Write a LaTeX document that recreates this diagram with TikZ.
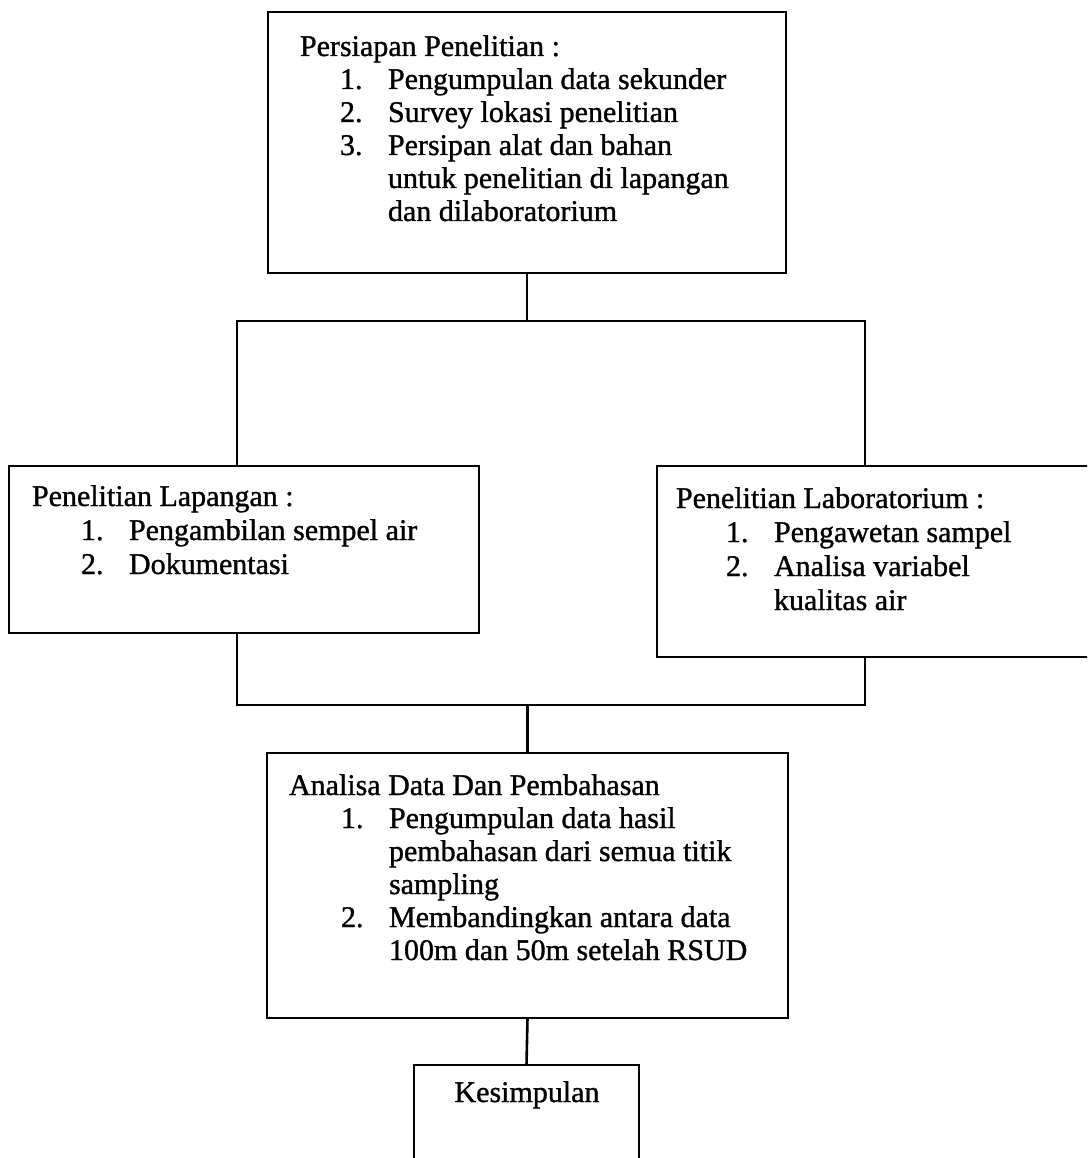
\documentclass[tikz,border=0pt]{standalone}
\usepackage{fontspec}
\setmainfont{Liberation Serif}[FakeBold=1.1]
\begin{document}
\begin{tikzpicture}[x=1pt,y=-1pt,
  box/.style={draw, line width=2.6pt, inner sep=0pt, outer sep=0pt, anchor=north west},
  txt/.style={anchor=base west, inner sep=0pt, outer sep=0pt, font=\fontsize{30}{33}\selectfont},
  ln/.style={line width=2.6pt}]
\useasboundingbox (0,0) rectangle (1087,1158);
\clip (0,0) rectangle (1087,1158);
\newcommand{\nm}[1]{\makebox[48pt][l]{#1}}
% boxes
\node[box, minimum width=518pt, minimum height=261pt] (b1) at (268,12) {};
\node[box, minimum width=470pt, minimum height=167pt] (lp) at (9,466) {};
\node[box, minimum width=440pt, minimum height=191pt] (lab) at (657,466) {};
\node[box, minimum width=521pt, minimum height=265pt] (ad) at (267,753) {};
\node[box, minimum width=225pt, minimum height=110pt] (kes) at (414,1065) {};
% texts box 1
\node[txt] (t11) at (300,56) {Persiapan Penelitian :};
\node[txt] (t12) at (340,89) {\nm{1.}Pengumpulan data sekunder};
\node[txt] (t13) at (340,122) {\nm{2.}Survey lokasi penelitian};
\node[txt] (t14) at (340,155) {\nm{3.}Persipan alat dan bahan};
\node[txt] (t15) at (388,188) {untuk penelitian di lapangan};
\node[txt] (t16) at (388,221) {dan dilaboratorium};
% left box
\node[txt] (t21) at (32,506) {Penelitian Lapangan :};
\node[txt] (t22) at (81,540) {\nm{1.}Pengambilan sempel air};
\node[txt] (t23) at (81,574) {\nm{2.}Dokumentasi};
% right box
\node[txt] (t31) at (676,508) {Penelitian Laboratorium :};
\node[txt] (t32) at (726,542) {\nm{1.}Pengawetan sampel};
\node[txt] (t33) at (726,576) {\nm{2.}Analisa variabel};
\node[txt] (t34) at (774,610) {kualitas air};
% box 4
\node[txt] (t41) at (289,795) {Analisa Data Dan Pembahasan};
\node[txt] (t42) at (341,828) {\nm{1.}Pengumpulan data hasil};
\node[txt] (t43) at (389,861) {pembahasan dari semua titik};
\node[txt] (t44) at (389,894) {sampling};
\node[txt] (t45) at (341,927) {\nm{2.}Membandingkan antara data};
\node[txt] (t46) at (389,960) {100m dan 50m setelah RSUD};
% kesimpulan
\node[txt, anchor=base] (t51) at (527,1102) {Kesimpulan};
% junctions
\coordinate (tl) at (237,321);
\coordinate (tr) at (865,321);
\coordinate (bl) at (237,705);
\coordinate (br) at (865,705);
% connectors
\draw[ln] (b1.south) -- (b1.south |- tl);
\draw[ln] (tl |- lp.north) -- (tl) -- (tr) -- (tr |- lab.north);
\draw[ln] (bl |- lp.south) -- (bl) -- (br) -- (br |- lab.south);
\draw[ln] (ad.north) -- (ad.north |- bl);
\draw[ln] (ad.south) -- (kes.north);
\end{tikzpicture}
\end{document}
